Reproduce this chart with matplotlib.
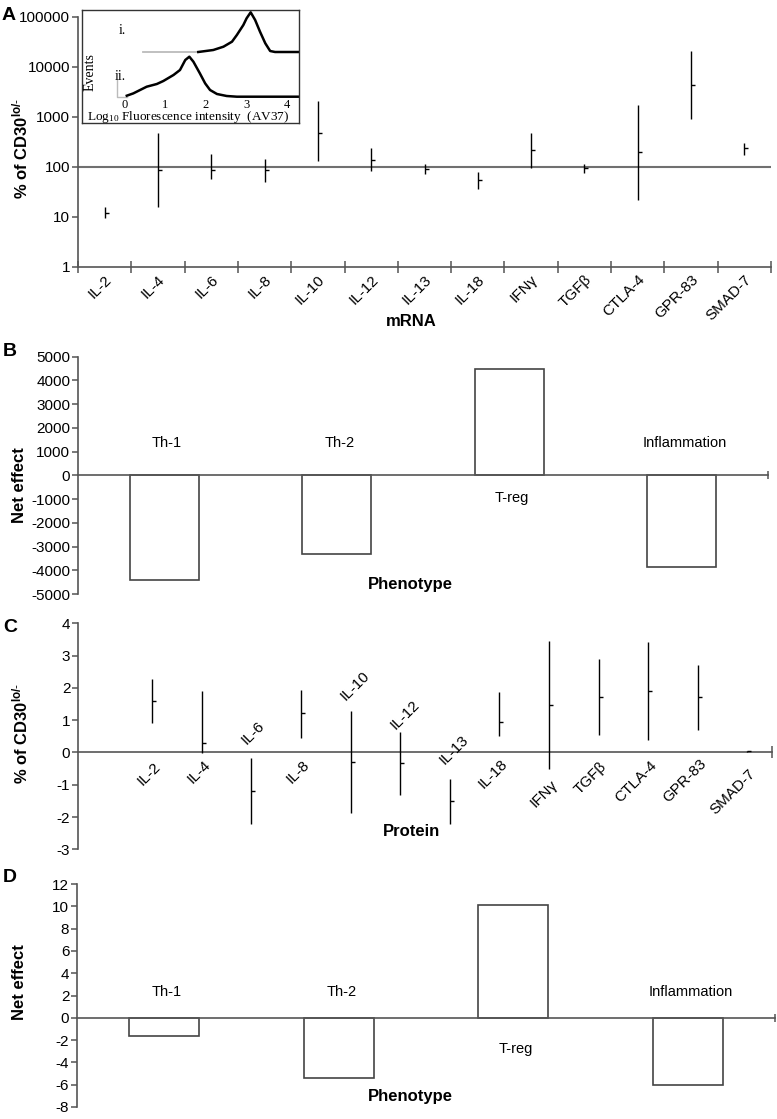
import matplotlib
matplotlib.use("Agg")
import matplotlib.pyplot as plt
from matplotlib.ticker import FixedLocator, NullLocator, NullFormatter

plt.rcParams["font.family"] = ["Liberation Sans", "DejaVu Sans"]
plt.rcParams["mathtext.default"] = "regular"
plt.rcParams["mathtext.fontset"] = "custom"
plt.rcParams["mathtext.rm"] = "Liberation Sans"
plt.rcParams["mathtext.bf"] = "Liberation Sans:bold"
plt.rcParams["axes.unicode_minus"] = False

# Panel A: mRNA, % of CD30lo/- (log scale)
genes = ["IL-2", "IL-4", "IL-6", "IL-8", "IL-10", "IL-12", "IL-13", "IL-18",
         "IFN\u03b3", "TGF\u03b2", "CTLA-4", "GPR-83", "SMAD-7"]
mrna_mean = [12, 86, 86, 86, 480, 140, 90, 54, 215, 93, 200, 4300, 234]
mrna_lo = [9.6, 16, 57, 50, 132, 83, 71, 36, 93, 76, 21.6, 890, 171]
mrna_hi = [15.8, 470, 178, 142, 2060, 234, 112, 77, 480, 112, 1700, 20900, 295]
mrna_yticks = [1, 10, 100, 1000, 10000, 100000]

# Inset: flow cytometry histograms
ii_x = [0.06, 0.22, 0.55, 0.80, 0.96, 1.21, 1.37, 1.50, 1.60, 1.70, 1.86,
        1.99, 2.11, 2.28, 2.52, 2.77, 4.30]
ii_y = [1, 3.3, 10, 12.7, 15.7, 21.7, 26.7, 36.7, 40, 35, 23.3, 13.3, 6.7,
        2.7, 0.7, 0, 0]
i_x = [1.82, 2.19, 2.44, 2.65, 2.77, 2.93, 3.01, 3.11, 3.22, 3.34, 3.47,
       3.59, 3.71, 4.30]
i_y = [0, 2, 5.3, 10.3, 17, 27, 33.7, 39.7, 32, 20.3, 8.7, 1, 0, 0]
i_gate_x = [0.47, 1.82]
ii_gate_x = [-0.19, -0.19, 0.06]
ii_gate_y = [16.7, 0, 0]

# Panels B and D: net effect per phenotype
phenotypes = ["Th-1", "Th-2", "T-reg", "Inflammation"]
net_mrna = [-4400, -3300, 4500, -3850]
net_protein = [-1.6, -5.4, 10.1, -6.0]

# Panel C: protein, % of CD30lo/-
prot_mean = [1.60, 0.28, -1.19, 1.21, -0.30, -0.33, -1.50, 0.93, 1.48, 1.73,
             1.91, 1.71, 0.03]
prot_lo = [0.90, -0.02, -2.22, 0.45, -1.88, -1.31, -2.21, 0.52, -0.51, 0.55,
           0.37, 0.69, 0.0]
prot_hi = [2.27, 1.89, -0.17, 1.93, 1.29, 0.62, -0.81, 1.86, 3.46, 2.89,
           3.42, 2.71, 0.06]
# where each rotated protein label sits (data units, panel C)
prot_label_y = [-0.23, -0.16, 0.18, -0.16, 1.54, 0.64, -0.47, -0.13, -0.78,
                -0.23, -0.16, -0.13, -0.44]

W, H = 777, 1119
AXC = "#555555"
YLAB = "% of CD30$^{\\mathbf{lo/}\\text{-}}$"


def fbox(x0, y0, x1, y1):
    """Pixel box (top-left, bottom-right) to figure fraction rect."""
    return [x0 / W, 1 - y1 / H, (x1 - x0) / W, (y1 - y0) / H]


def ftext(px, py, s, **kw):
    fig.text(px / W, 1 - py / H, s, **kw)


def style_axes(ax, fs=11, family=None):
    for side in ("top", "right"):
        ax.spines[side].set_visible(False)
    for side in ("left", "bottom"):
        ax.spines[side].set_color(AXC)
        ax.spines[side].set_linewidth(1.2)
    ax.tick_params(axis="y", direction="out", length=4, width=1.1,
                   color=AXC, pad=1.5, labelsize=fs)
    if family:
        for lab in ax.get_yticklabels():
            lab.set_family(family)
    ax.set_facecolor("none")


fig = plt.figure(figsize=(W / 100, H / 100), dpi=100)

# ---------------- Panel A ----------------
axA = fig.add_axes(fbox(78, 17, 771, 266.7))
xs = [i + 0.5 for i in range(len(genes))]
axA.set_yscale("log")
axA.set_ylim(1, 100000)
axA.set_xlim(0, len(genes))
axA.axhline(100, color="#707070", lw=1.5, zorder=1)
axA.vlines(xs, mrna_lo, mrna_hi, color="black", lw=1.0, zorder=3)
axA.plot(xs, mrna_mean, ls="none", marker=1, ms=3, mew=1.0, color="black",
         zorder=4)
axA.yaxis.set_major_locator(FixedLocator(mrna_yticks))
axA.yaxis.set_minor_locator(NullLocator())
axA.set_yticklabels([str(v) for v in mrna_yticks])
axA.xaxis.set_major_locator(FixedLocator(range(len(genes) + 1)))
axA.xaxis.set_major_formatter(NullFormatter())
axA.tick_params(axis="x", direction="inout", length=8, width=1.1, color=AXC)
style_axes(axA)
for x, g in zip(xs, genes):
    axA.annotate(g, xy=(x, 0), xycoords=("data", "axes fraction"),
                 xytext=(7, -4), textcoords="offset points", rotation=45,
                 ha="right", va="top", fontsize=11)

# inset histogram
axI = fig.add_axes(fbox(81.7, 10, 299, 123))
axI.set_xlim(-1.05, 4.30)
axI.set_ylim(-26.3, 86.7)
i_base = 44.7
axI.plot(i_gate_x, [i_base, i_base], color="#bbbbbb", lw=1.3)
axI.plot(ii_gate_x, ii_gate_y, color="#bbbbbb", lw=1.0)
axI.plot(ii_x, ii_y, color="black", lw=1.8)
axI.plot(i_x, [v + i_base for v in i_y], color="black", lw=1.8)
axI.set_xticks([])
axI.set_yticks([])
for sp in axI.spines.values():
    sp.set_color("#333333")
    sp.set_linewidth(1.0)
serif = ["Liberation Serif", "DejaVu Serif"]
for k in range(5):
    axI.text(k, -8.5, str(k), ha="center", va="center", fontsize=9,
             family=serif)
axI.text(1.58, -20.5, "Log$_{\\mathregular{10}}$ Fluorescence intensity  (AV37)",
         ha="center", va="center", fontsize=9.5, family=serif)
axI.text(-0.06, 66.7, "i.", ha="center", va="center", fontsize=10,
         family=serif)
axI.text(-0.10, 20, "ii.", ha="center", va="center", fontsize=10,
         family=serif)
axI.text(-0.84, 25, "Events", rotation=90, ha="center", va="center",
         fontsize=10, family=serif)

ftext(2, 15, "A", fontsize=14, fontweight="bold", ha="left", va="center")
ftext(20, 148, YLAB, rotation=90,
      fontsize=12, fontweight="bold", ha="center", va="center")
ftext(411, 322, "mRNA", fontsize=12, fontweight="bold", ha="center",
      va="center")


def bar_panel(ax, vals, ylim, yticks, off_up, off_down, fs_lab, family=None):
    pos = range(len(phenotypes))
    ax.bar(pos, vals, width=0.4, facecolor="white", edgecolor="#444444",
           lw=1.2, zorder=2)
    ax.set_xlim(-0.5, len(phenotypes) - 0.5)
    ax.set_ylim(*ylim)
    ax.set_yticks(yticks)
    ax.spines["bottom"].set_position(("data", 0))
    ax.spines["bottom"].set_zorder(3)
    ax.set_xticks([len(phenotypes) - 0.5])
    ax.set_xticklabels([""])
    ax.tick_params(axis="x", direction="inout", length=6, width=1.1,
                   color=AXC)
    style_axes(ax, fs=11, family=family)
    for i, (p, v) in enumerate(zip(phenotypes, vals)):
        dy = off_up if v < 0 else -off_down
        ax.annotate(p, xy=(i, 0), xytext=(2, dy), textcoords="offset points",
                    ha="center", va="center", fontsize=fs_lab,
                    family=family if family else None)


# ---------------- Panel B ----------------
axB = fig.add_axes(fbox(78, 356.7, 768, 594))
bar_panel(axB, net_mrna, (-5000, 5000), range(-5000, 5001, 1000), 23.5, 16.3,
          10.5)
ftext(3, 351, "B", fontsize=14, fontweight="bold", ha="left", va="center")
ftext(20, 485, "Net effect", rotation=90, fontsize=12, fontweight="bold",
      ha="center", va="center")
ftext(410, 585, "Phenotype", fontsize=12, fontweight="bold", ha="center",
      va="center")

# ---------------- Panel C ----------------
axC = fig.add_axes(fbox(78, 623.3, 772, 849.3))
px = list(range(len(genes)))
axC.set_xlim(-1.5, len(genes) - 0.5)
axC.set_ylim(-3, 4)
axC.set_yticks(range(-3, 5))
axC.vlines(px, prot_lo, prot_hi, color="black", lw=1.0, zorder=3)
axC.plot(px, prot_mean, ls="none", marker=1, ms=3, mew=1.0, color="black",
         zorder=4)
axC.spines["bottom"].set_position(("data", 0))
axC.set_xticks([len(genes) - 0.5])
axC.set_xticklabels([""])
axC.tick_params(axis="x", direction="inout", length=8, width=1.1, color=AXC)
style_axes(axC)
for x, g, m, ly in zip(px, genes, prot_mean, prot_label_y):
    if m < 0:
        axC.annotate(g, xy=(x, ly), xytext=(-9, 0), textcoords="offset points",
                     rotation=45, ha="left", va="bottom", fontsize=11)
    else:
        axC.annotate(g, xy=(x, ly), xytext=(8, 0), textcoords="offset points",
                     rotation=45, ha="right", va="top", fontsize=11)
ftext(3, 627, "C", fontsize=14, fontweight="bold", ha="left", va="center")
ftext(20, 733, YLAB, rotation=90,
      fontsize=12, fontweight="bold", ha="center", va="center")
ftext(412, 832, "Protein", fontsize=12, fontweight="bold", ha="center",
      va="center")

# ---------------- Panel D ----------------
narrow = ["Liberation Sans Narrow", "Liberation Sans", "DejaVu Sans"]
axD = fig.add_axes(fbox(77, 884, 775, 1107))
bar_panel(axD, net_protein, (-8, 12), range(-8, 13, 2), 18.7, 22.3, 10.5,
          family=narrow)
ftext(3, 877, "D", fontsize=14, fontweight="bold", ha="left", va="center")
ftext(20, 982, "Net effect", rotation=90, fontsize=12, fontweight="bold",
      ha="center", va="center")
ftext(410, 1096, "Phenotype", fontsize=12, fontweight="bold", ha="center",
      va="center")

fig.savefig("out.png", dpi=100)
